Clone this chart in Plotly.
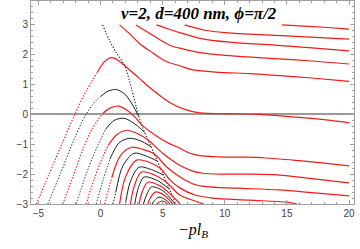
import plotly.graph_objects as go

RED = "#f01c1c"
BLACK = "#1e1e1e"
FRAME = "#a0a0a0"

X_TICKS = [-5, 0, 5, 10, 15, 20]
Y_TICKS = [-3, -2, -1, 0, 1, 2, 3]
TITLE = "ν=2, d=400 nm, ϕ=π/2"
XLABEL = "−pl"
XLABEL_SUB = "B"

# ---- upper family (red, solid) ----
U1 = [(1.53, 3.0), (2.34, 2.7), (3.15, 2.37), (3.95, 2.13), (5.16, 1.8), (6.37, 1.63),
      (7.42, 1.49), (9.6, 1.41), (12.0, 1.37), (14.4, 1.3), (17.0, 1.22), (20.0, 1.11)]
U2 = [(2.85, 3.0), (3.6, 2.8), (4.9, 2.47), (5.56, 2.32), (6.37, 2.22), (8.0, 2.07),
      (10.4, 1.97), (14.0, 1.87), (17.0, 1.79), (20.0, 1.69)]
U3 = [(4.5, 3.0), (5.4, 2.87), (6.37, 2.74), (8.0, 2.55), (10.4, 2.42), (14.0, 2.32),
      (17.0, 2.23), (20.0, 2.13)]
U4 = [(6.77, 3.0), (7.6, 2.9), (8.4, 2.82), (10.0, 2.74), (12.0, 2.69), (15.0, 2.63),
      (20.0, 2.52)]
U5 = [(14.6, 3.0), (16.0, 2.97), (18.0, 2.92), (20.0, 2.86)]

# ---- envelope (black, dotted) ----
ENV = [(0.16, 3.0), (0.73, 2.47), (1.3, 2.05), (1.94, 1.63), (2.5, 0.85), (2.9, 0.2),
       (3.3, -0.35), (4.0, -1.02), (5.0, -1.97), (6.05, -3.0)]

# ---- hump curves: dotted rising part, then solid part ----
R1_DOT = [(-5.16, -3.0), (-4.2, -2.05), (-3.1, -0.98), (-2.1, -0.02), (-1.2, 0.75), (-0.25, 1.42)]
R1_SOL = [(-0.25, 1.42), (0.3, 1.76), (0.9, 1.9), (1.45, 1.8), (1.94, 1.63), (3.15, 1.2),
          (3.95, 0.9), (5.56, 0.4), (6.77, 0.17), (7.98, 0.05), (10.4, 0.02), (12.8, 0.0),
          (16.0, -0.1), (18.5, -0.2), (20.0, -0.28)]
B1_DOT = [(-4.25, -3.0), (-3.2, -1.95), (-2.2, -0.9), (-1.2, -0.02), (-0.4, 0.45), (0.0, 0.6)]
B1_SOL = [(0.0, 0.6), (0.6, 0.78), (1.3, 0.83), (2.0, 0.66), (2.6, 0.3), (3.05, -0.05)]
R2_DOT = [(-3.04, -3.0), (-2.2, -2.05), (-1.4, -1.15), (-0.7, -0.5), (0.15, 0.02)]
R2_SOL = [(0.15, 0.02), (0.8, 0.22), (1.45, 0.28), (2.1, 0.15), (2.75, -0.08), (3.3, -0.35),
          (4.5, -0.72), (5.5, -0.97), (6.37, -1.13), (7.2, -1.3), (7.98, -1.38), (9.5, -1.42),
          (11.5, -1.43), (13.1, -1.45), (16.0, -1.55), (18.0, -1.63), (20.0, -1.72)]
B2_DOT = [(-1.96, -3.0), (-1.2, -2.05), (-0.5, -1.3), (0.4, -0.5)]
B2_SOL = [(0.4, -0.5), (1.1, -0.2), (1.9, -0.13), (2.7, -0.3), (3.55, -0.6)]
R3_DOT = [(-1.16, -3.0), (-0.5, -2.15), (0.2, -1.4), (0.6, -1.05)]
R3_SOL = [(0.6, -1.05), (1.3, -0.68), (2.1, -0.53), (2.9, -0.63), (3.8, -0.85), (5.0, -1.3),
          (5.8, -1.55), (6.37, -1.7), (7.3, -1.88), (8.2, -1.97), (10.0, -2.0), (12.0, -2.0),
          (14.4, -2.03), (17.0, -2.15), (20.0, -2.29)]
B3_DOT = [(-0.35, -3.0), (0.2, -2.2), (0.75, -1.5)]
B3_SOL = [(0.75, -1.5), (1.5, -0.95), (2.3, -0.8), (3.2, -0.88), (4.05, -1.08)]
R4_DOT = [(0.32, -3.0), (0.9, -2.12)]
R4_SOL = [(0.9, -2.12), (1.6, -1.38), (2.5, -1.1), (3.4, -1.17), (4.3, -1.32), (5.3, -1.75),
          (6.37, -2.09), (7.4, -2.32), (8.5, -2.42), (11.0, -2.47), (14.4, -2.53),
          (17.0, -2.62), (20.0, -2.73)]
B4_DOT = [(0.99, -3.0), (1.22, -2.62)]
B4_SOL = [(1.22, -2.62), (1.8, -1.72), (2.7, -1.3), (3.6, -1.38), (4.55, -1.56)]
R5_SOL = [(1.53, -3.0), (2.0, -2.1), (2.9, -1.53), (3.9, -1.6), (4.8, -1.8), (5.6, -2.2),
          (6.37, -2.46), (7.6, -2.7), (9.0, -2.8), (12.0, -2.87), (15.0, -2.94), (15.8, -3.0)]
B5_SOL = [(2.0, -3.0), (2.4, -2.25), (3.1, -1.77), (4.1, -1.85), (5.05, -2.03)]
R6_SOL = [(2.4, -3.0), (2.75, -2.35), (3.3, -1.93), (4.3, -2.02), (5.3, -2.27), (6.37, -2.7),
          (7.6, -2.9), (8.3, -3.0)]
B6_SOL = [(2.75, -3.0), (3.05, -2.45), (3.5, -2.1), (4.5, -2.2), (5.55, -2.5)]
R7_SOL = [(3.1, -3.0), (3.35, -2.6), (3.8, -2.27), (4.8, -2.4), (5.8, -2.74), (6.4, -3.0)]
B7_SOL = [(3.45, -3.0), (3.7, -2.7), (4.1, -2.43), (5.0, -2.55), (6.0, -3.0)]
R8_SOL = [(3.8, -3.0), (4.0, -2.8), (4.4, -2.6), (5.1, -2.7), (5.8, -3.0)]
B8_SOL = [(4.15, -3.0), (4.35, -2.88), (4.7, -2.77), (5.2, -2.85), (5.6, -3.0)]
R9_SOL = [(4.5, -3.0), (5.0, -2.9), (5.4, -3.0)]

DOT = "1.3px,1.7px"

fig = go.Figure()


def add(pts, color, dotted=False, width=1.2):
    fig.add_trace(go.Scatter(
        x=[p[0] for p in pts], y=[p[1] for p in pts], mode="lines",
        line=dict(color=color, width=width, dash=DOT if dotted else "solid",
                  shape="spline", smoothing=0.9),
        hoverinfo="skip", showlegend=False))


for pts in [U1, U2, U3, U4, U5]:
    add(pts, RED)

add(ENV, BLACK, dotted=True, width=1.1)

for d, s, c in [(R1_DOT, R1_SOL, RED), (B1_DOT, B1_SOL, BLACK), (R2_DOT, R2_SOL, RED),
                (B2_DOT, B2_SOL, BLACK), (R3_DOT, R3_SOL, RED), (B3_DOT, B3_SOL, BLACK),
                (R4_DOT, R4_SOL, RED), (B4_DOT, B4_SOL, BLACK)]:
    w = 1.2 if c == RED else 1.0
    add(d, c, dotted=True, width=w)
    add(s, c, width=w)

for s, c in [(R5_SOL, RED), (B5_SOL, BLACK), (R6_SOL, RED), (B6_SOL, BLACK),
             (R7_SOL, RED), (B7_SOL, BLACK), (R8_SOL, RED), (B8_SOL, BLACK), (R9_SOL, RED)]:
    add(s, c, width=1.2 if c == RED else 1.0)

axis_common = dict(
    showline=True, linecolor=FRAME, linewidth=1, mirror="allticks",
    ticks="inside", ticklen=4, tickcolor=FRAME, tickwidth=1, automargin=False,
    showgrid=False, tickfont=dict(family="Liberation Sans", size=10, color="#444"),
)

fig.update_layout(
    width=360, height=249,
    margin=dict(l=31, r=6, t=1, b=45),
    paper_bgcolor="white", plot_bgcolor="white",
    xaxis=dict(range=[-5.6, 20.4], tickvals=X_TICKS, zeroline=False,
               minor=dict(dtick=1, tick0=0, ticks="inside", ticklen=2, tickcolor=FRAME),
               **axis_common),
    yaxis=dict(range=[-3, 3.8], tickvals=Y_TICKS, zeroline=True, zerolinecolor="#9a9a9a",
               zerolinewidth=1.5,
               minor=dict(dtick=0.2, tick0=0, ticks="inside", ticklen=2, tickcolor=FRAME),
               **axis_common),
    annotations=[
        dict(text="<b><i>" + TITLE + "</i></b>", x=7.9, y=3.37, xref="x", yref="y",
             showarrow=False, font=dict(family="Liberation Serif", size=17, color="black"),
             xanchor="center", yanchor="middle"),
        dict(text="<i>" + XLABEL + "</i><sub><i>" + XLABEL_SUB + "</i></sub>",
             x=0.5, y=-0.13, xref="paper", yref="paper", showarrow=False,
             font=dict(family="Liberation Serif", size=16, color="black"),
             xanchor="center", yanchor="middle"),
    ],
)

fig.write_html(
    "out.html",
    config={"displayModeBar": False},
    post_script="document.body.style.margin='0';document.body.style.padding='0';"
                "document.body.style.overflow='hidden';",
)
